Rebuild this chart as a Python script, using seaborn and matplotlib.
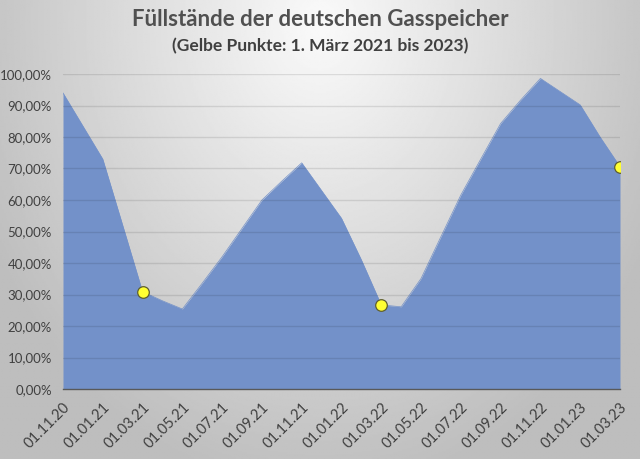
import numpy as np
import pandas as pd
import matplotlib
matplotlib.use("Agg")
import matplotlib.pyplot as plt
from matplotlib.ticker import FuncFormatter, FixedLocator
import seaborn as sns

# ---- data ----
months = ["01.11.20", "01.12.20", "01.01.21", "01.02.21", "01.03.21", "01.04.21",
          "01.05.21", "01.06.21", "01.07.21", "01.08.21", "01.09.21", "01.10.21",
          "01.11.21", "01.12.21", "01.01.22", "01.02.22", "01.03.22", "01.04.22",
          "01.05.22", "01.06.22", "01.07.22", "01.08.22", "01.09.22", "01.10.22",
          "01.11.22", "01.12.22", "01.01.23", "01.02.23", "01.03.23"]
fill_level = [94.0, 83.5, 73.0, 52.0, 30.9, 28.0, 25.4, 33.6, 42.0, 51.0,
              60.0, 66.0, 71.8, 63.0, 54.2, 41.0, 26.7, 26.1, 35.1, 48.4,
              61.6, 73.0, 84.3, 91.7, 98.6, 94.4, 90.2, 80.0, 70.6]
marker_months = ["01.03.21", "01.03.22", "01.03.23"]
tick_labels = months[::2]

title = "Füllstände der deutschen Gasspeicher"
subtitle = "(Gelbe Punkte: 1. März 2021 bis 2023)"

df = pd.DataFrame({"month": months, "level": np.array(fill_level) / 100.0})
df["idx"] = np.arange(len(df))
mk = df[df["month"].isin(marker_months)]

# ---- style ----
sns.set_style("white")
plt.rcParams["font.family"] = ["Lato", "DejaVu Sans"]

W, H = 640, 459
fig = plt.figure(figsize=(W / 100, H / 100), dpi=100)

# background gradient
bg = fig.add_axes([0, 0, 1, 1], zorder=-10)
yy, xx = np.mgrid[0:1:300j, 0:1:400j]
d = np.sqrt(((xx - 0.5) / 0.6) ** 2 + ((yy - 0.05) / 1.05) ** 2)
val = np.clip(250 - 62 * d, 190, 250) / 255.0
bg.imshow(val, cmap="gray", vmin=0, vmax=1, extent=[0, 1, 0, 1],
          aspect="auto", origin="upper")
bg.set_axis_off()

ax = fig.add_axes([63 / W, 1 - 389 / H, (620 - 63) / W, (389 - 74) / H])
ax.set_facecolor("none")

area_color = "#7391c9"
ax.fill_between(df["idx"], df["level"], 0, color=area_color, lw=0, zorder=2)
sns.lineplot(data=df, x="idx", y="level", ax=ax, color=area_color, lw=0.5, zorder=3)
sns.scatterplot(data=mk, x="idx", y="level", ax=ax, s=70, marker="o",
                color="#ffff33", edgecolor="#5f5f30", linewidth=0.9, zorder=5)

# gridlines on top
for v in np.arange(0.1, 1.01, 0.1):
    ax.axhline(v, color="black", alpha=0.10, lw=1.0, zorder=4)

ax.set_xlim(0, len(months) - 1)
ax.set_ylim(0, 1.0)
ax.xaxis.set_major_locator(FixedLocator(np.arange(0, len(months), 2)))
ax.set_xticklabels(tick_labels, rotation=45, ha="right", rotation_mode="anchor",
                   fontsize=10.5, color="#404040")
ax.set_yticks(np.arange(0, 1.01, 0.1))
ax.yaxis.set_major_formatter(FuncFormatter(lambda v, p: f"{v*100:.2f}%".replace(".", ",")))
ax.tick_params(axis="y", length=0, labelsize=9.5, labelcolor="#404040", pad=8)
ax.tick_params(axis="x", length=4, width=1.0, color="#595959", direction="out", pad=4)
ax.set_xlabel("")
ax.set_ylabel("")
for s in ["top", "right", "left"]:
    ax.spines[s].set_visible(False)
ax.spines["bottom"].set_color("#595959")
ax.spines["bottom"].set_linewidth(1.0)
ax.spines["bottom"].set_zorder(6)

fig.text(0.5, 1 - 20 / H, title, ha="center", va="center", fontsize=16,
         fontweight="bold", color="#505050")
fig.text(0.5, 1 - 46 / H, subtitle, ha="center", va="center", fontsize=12.5,
         fontweight="bold", color="#404040")

fig.savefig("out.png", dpi=100)
